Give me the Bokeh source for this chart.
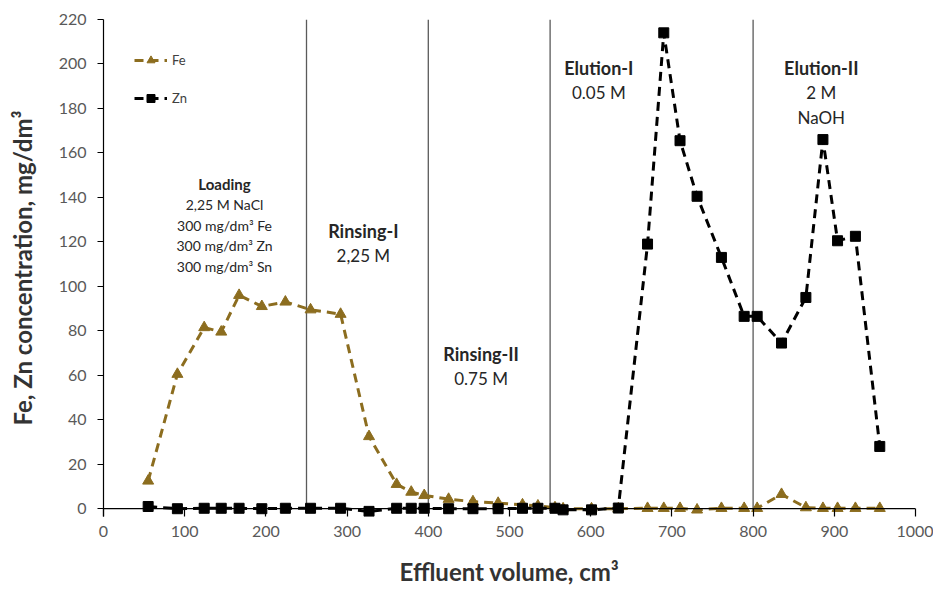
from bokeh.plotting import figure
from bokeh.models import Range1d, FixedTicker, Span, Legend, LegendItem, ColumnDataSource
from bokeh.core.properties import value
from bokeh.embed import file_html
from bokeh.resources import INLINE

# ---- data ----
volume = [55, 91, 124, 145, 167, 195, 224, 255, 292, 327, 361, 379, 395, 425, 455, 486,
          516, 535, 556, 566, 601, 634, 670, 690, 710, 731, 761, 789, 805, 835, 865, 886,
          904, 926, 956]
fe_conc = [12.5, 60.5, 81.5, 79.5, 96, 91, 93, 89.5, 87.5, 32.5, 11, 7.5, 6, 4.3, 3.2, 2.5,
           1.8, 1.3, 0.5, 0, 0, 0, 0.2, 0.2, 0.2, -0.5, 0.2, 0.2, 0.2, 6.5, 0.5, 0.2,
           0.2, 0.2, 0.2]
zn_conc = [1, 0, 0.2, 0.2, 0.2, 0, 0.2, 0.2, 0.2, -1.2, 0.2, 0.2, 0.2, 0, 0, 0,
           0.2, 0.2, 0.2, -0.5, -0.5, 0.3, 119, 214, 165.5, 140.5, 113, 86.5, 86.5, 74.5, 95, 166,
           120.5, 122.5, 28]
phase_bounds = [250, 400, 550, 800]
phase_titles = ["Loading", "Rinsing-I", "Rinsing-II", "Elution-I", "Elution-II"]
phase_notes = [["2,25 M NaCl", "300 mg/dm³ Fe", "300 mg/dm³ Zn", "300 mg/dm³ Sn"],
               ["2,25 M"], ["0.75 M"], ["0.05 M"], ["2 M", "NaOH"]]
phase_label_x = [149, 320, 465, 610, 884]
phase_label_y = [146, 125, 69.7, 198, 198]
x_ticks = [0, 100, 200, 300, 400, 500, 600, 700, 800, 900, 1000]
y_ticks = [0, 20, 40, 60, 80, 100, 120, 140, 160, 180, 200, 220]

FE_COLOR = "#8C6D1F"
FONT = "Lato"

p = figure(width=933, height=590, output_backend="svg", toolbar_location=None,
           x_range=Range1d(0, 1000), y_range=Range1d(-3.5, 220),
           min_border_left=103, min_border_right=18, min_border_top=19, min_border_bottom=74)
p.outline_line_color = None
p.xgrid.visible = False
p.ygrid.visible = False
p.background_fill_color = "white"

# axes
p.xaxis.ticker = FixedTicker(ticks=x_ticks)
p.yaxis.ticker = FixedTicker(ticks=y_ticks)
for ax in (p.xaxis[0], p.yaxis[0]):
    ax.major_label_text_font = FONT
    ax.major_label_text_font_size = "16px"
    ax.major_label_text_color = "#595959"
    ax.minor_tick_line_color = None
    ax.major_tick_line_color = "black"
    ax.major_tick_line_width = 1.2
    ax.axis_label_text_font = FONT
    ax.axis_label_text_font_style = "bold"
    ax.axis_label_text_color = "#333333"
    ax.axis_label_text_font_size = "24px"
p.xaxis.axis_line_color = None
p.xaxis.major_tick_in = 8
p.xaxis.major_tick_out = 0
p.xaxis.major_label_standoff = 9
p.xaxis.axis_label = "Effluent volume, cm³"
p.xaxis.axis_label_standoff = 17
p.yaxis.axis_line_color = "black"
p.yaxis.axis_line_width = 1.2
p.yaxis.major_tick_in = 0
p.yaxis.major_tick_out = 6
p.yaxis.major_label_standoff = 11
p.yaxis.axis_label = "Fe, Zn concentration, mg/dm³"
p.yaxis.axis_label_standoff = 19

p.add_layout(Span(location=0, dimension="width", line_color="black", line_width=1.2))

# phase boundaries
p.segment(x0=phase_bounds, y0=[0] * len(phase_bounds), x1=phase_bounds,
          y1=[220] * len(phase_bounds), line_color="#5a5a5a", line_width=1.3)

# series
src = ColumnDataSource(dict(v=volume, fe=fe_conc, zn=zn_conc))
fe_line = p.line("v", "fe", source=src, line_color=FE_COLOR, line_width=3, line_dash="9 6")
fe_pts = p.scatter("v", "fe", source=src, marker="triangle", size=11,
                   fill_color=FE_COLOR, line_color=FE_COLOR)
zn_line = p.line("v", "zn", source=src, line_color="black", line_width=3, line_dash="9 6")
zn_pts = p.scatter("v", "zn", source=src, marker="square", size=10,
                   fill_color="black", line_color="black")

# phase annotations
tx, ty, tt = [], [], []
nx, ny, nt, noff, nsize = [], [], [], [], []
for i, title in enumerate(phase_titles):
    tx.append(phase_label_x[i]); ty.append(phase_label_y[i]); tt.append(title)
    step = 20.5 if i == 0 else 24.5
    for j, note in enumerate(phase_notes[i]):
        nx.append(phase_label_x[i]); ny.append(phase_label_y[i]); nt.append(note)
        noff.append(step * (j + 1))
        nsize.append("14px" if i == 0 else "17px")
tsize = ["15px"] + ["18px"] * (len(phase_titles) - 1)
p.text(x="x", y="y", text="t", source=ColumnDataSource(dict(x=tx, y=ty, t=tt, s=tsize)),
       text_font=value(FONT), text_font_style="bold", text_font_size="s",
       text_align="center", text_baseline="middle", text_color="#262626")
p.text(x="x", y="y", text="t", y_offset="o",
       source=ColumnDataSource(dict(x=nx, y=ny, t=nt, o=noff, s=nsize)),
       text_font=value(FONT), text_font_size="s",
       text_align="center", text_baseline="middle", text_color="#262626")

legend = Legend(items=[LegendItem(label="Fe", renderers=[fe_line, fe_pts]),
                       LegendItem(label="Zn", renderers=[zn_line, zn_pts])],
                location="top_left", margin=31, padding=0, spacing=18,
                glyph_width=33, glyph_height=20, label_height=20, label_standoff=5,
                label_text_font=FONT, label_text_font_size="13px", label_text_color="#404040",
                border_line_color=None, background_fill_alpha=0)
p.add_layout(legend)

open("out.html", "w").write(file_html(p, INLINE))
